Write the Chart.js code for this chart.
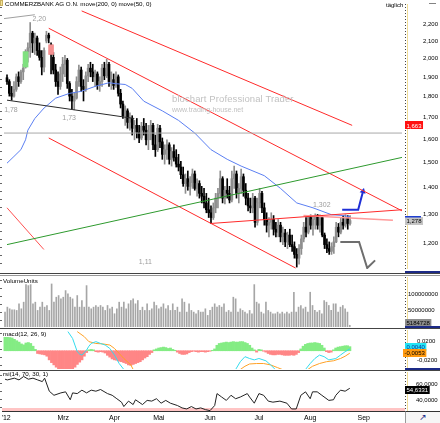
<!DOCTYPE html>
<html><head><meta charset="utf-8">
<script src="https://cdn.jsdelivr.net/npm/chart.js@4.4.1/dist/chart.umd.min.js"></script>
<style>
html,body{margin:0;padding:0;background:#fff}
body{width:440px;height:423px;position:relative;overflow:hidden;font-family:"Liberation Sans",Arial,sans-serif}
canvas{position:absolute;left:0}
.tx{position:absolute;white-space:nowrap;line-height:1;color:#000;font-size:6.5px}
.ln{position:absolute;left:0;width:440px;height:1px;background:#444}
.nv{position:absolute;left:405px;width:35px;height:2px;background:#1c2a86}
.wm{position:absolute;color:#c2c2c2;white-space:nowrap;line-height:1}
</style></head><body>
<canvas id="cPrice" width="440" height="273" style="top:0"></canvas>
<canvas id="cVol" width="440" height="54" style="top:277px"></canvas>
<canvas id="cMacd" width="440" height="39" style="top:330px"></canvas>
<canvas id="cRsi" width="440" height="51" style="top:372px"></canvas>

<div style="position:absolute;left:0;top:0;width:3px;height:6px;background:#f4e49a;border:1px solid #c8b060;box-sizing:border-box"></div>
<div class="tx" style="left:5px;top:1px;font-size:6.2px">COMMERZBANK AG O.N. move(200, 0) move(50, 0)</div>
<div class="tx" style="left:386px;top:2px;font-size:6px">täglich</div>
<div class="tx" style="left:429px;top:-1px;font-size:7px">—</div>
<div class="wm" style="left:172px;top:94px;font-size:9.5px;letter-spacing:0.1px">blochart Professional Trader</div>
<div class="wm" style="left:172px;top:106px;font-size:7px">www.trading-house.net</div>
<div class="tx" style="left:3px;top:278px;font-size:6.2px">VolumeUnits</div>
<div class="tx" style="left:3px;top:331px;font-size:6.2px">macd(12, 26, 9)</div>
<div class="tx" style="left:3px;top:371px;font-size:6.2px">rsi(14, 70, 30, 1)</div>

<div class="ln" style="top:273px"></div><div class="ln" style="top:275px;background:#999"></div>
<div class="nv" style="top:271px"></div>
<div class="ln" style="top:328px"></div><div class="nv" style="top:326px"></div>
<div class="ln" style="top:370px"></div><div class="nv" style="top:368px"></div>
<div style="position:absolute;left:405px;top:411px;width:35px;height:12px;border-top:1px solid #333;border-left:1px solid #999;background:#f6f6f6;box-sizing:border-box;text-align:center;font-size:9px;line-height:10px;color:#1c2a86;font-family:'DejaVu Sans'">↗</div>

<script>
// ---------- DATA ----------
const candleOpen = [1.897,1.877,1.817,1.803,1.837,1.902,1.877,1.928,1.954,2.039,
2.061,2.146,2.089,2.117,2.045,2.007,1.954,2.100,2.134,2.078,
2.007,1.938,1.877,1.852,1.917,1.969,1.991,1.867,1.803,1.779,
1.793,1.877,1.938,1.852,1.837,1.907,1.948,1.928,1.902,1.917,
1.857,1.877,1.948,1.907,1.969,1.877,1.887,1.857,1.902,1.817,
1.764,1.708,1.731,1.677,1.695,1.650,1.663,1.632,1.606,1.659,
1.641,1.598,1.632,1.663,1.576,1.555,1.650,1.589,1.535,1.555,
1.576,1.514,1.547,1.522,1.494,1.482,1.451,1.416,1.435,1.405,
1.420,1.454,1.397,1.416,1.378,1.367,1.342,1.317,1.306,1.289,
1.324,1.360,1.378,1.435,1.360,1.390,1.378,1.353,1.435,1.454,
1.378,1.397,1.443,1.390,1.360,1.331,1.324,1.360,1.272,1.342,
1.378,1.324,1.282,1.262,1.272,1.282,1.248,1.238,1.262,1.222,
1.235,1.205,1.228,1.196,1.189,1.164,1.152,1.183,1.215,1.255,
1.238,1.289,1.262,1.282,1.296,1.262,1.289,1.228,1.196,1.183,
1.174,1.189,1.205,1.255,1.238,1.272,1.262,1.289,1.268];
const candleHigh = [1.912,1.887,1.852,1.877,1.917,1.928,1.938,1.969,2.050,2.089,
2.210,2.157,2.146,2.129,2.089,2.045,2.061,2.157,2.146,2.089,
2.034,1.969,1.928,1.954,2.007,2.018,2.001,1.877,1.837,1.817,
1.902,1.964,1.954,1.887,1.928,1.969,1.980,1.969,1.938,1.928,
1.902,1.969,1.980,1.996,1.980,1.928,1.917,1.928,1.912,1.837,
1.779,1.755,1.741,1.722,1.708,1.686,1.695,1.663,1.677,1.695,
1.672,1.663,1.686,1.672,1.619,1.668,1.663,1.606,1.576,1.598,
1.585,1.564,1.576,1.555,1.535,1.506,1.482,1.454,1.466,1.443,
1.474,1.466,1.435,1.427,1.405,1.397,1.378,1.360,1.331,1.342,
1.378,1.397,1.466,1.443,1.405,1.435,1.405,1.466,1.486,1.466,
1.416,1.474,1.454,1.416,1.378,1.360,1.378,1.367,1.360,1.397,
1.386,1.342,1.306,1.289,1.306,1.296,1.272,1.282,1.272,1.255,
1.248,1.238,1.248,1.228,1.205,1.183,1.196,1.228,1.272,1.289,
1.296,1.298,1.296,1.302,1.300,1.299,1.296,1.235,1.215,1.205,
1.202,1.222,1.272,1.268,1.289,1.296,1.299,1.296,1.296];
const candleLow = [1.862,1.803,1.783,1.798,1.827,1.852,1.867,1.887,1.948,1.980,
2.007,2.034,2.023,2.018,1.991,1.912,1.928,2.089,2.089,1.917,
1.917,1.852,1.812,1.837,1.877,1.902,1.842,1.779,1.741,1.736,
1.788,1.852,1.827,1.779,1.827,1.877,1.902,1.877,1.852,1.837,
1.827,1.852,1.887,1.897,1.852,1.837,1.837,1.847,1.803,1.745,
1.695,1.663,1.650,1.641,1.619,1.598,1.606,1.585,1.598,1.619,
1.576,1.555,1.598,1.555,1.526,1.547,1.564,1.514,1.494,1.514,
1.494,1.486,1.506,1.482,1.466,1.435,1.405,1.378,1.390,1.371,
1.397,1.390,1.367,1.360,1.342,1.324,1.306,1.289,1.268,1.282,
1.306,1.324,1.360,1.342,1.338,1.360,1.342,1.346,1.397,1.360,
1.342,1.378,1.367,1.335,1.313,1.306,1.306,1.255,1.262,1.324,
1.306,1.262,1.238,1.222,1.248,1.228,1.222,1.222,1.205,1.196,
1.189,1.183,1.189,1.174,1.152,1.124,1.133,1.164,1.205,1.222,
1.232,1.248,1.228,1.248,1.248,1.238,1.222,1.183,1.170,1.164,
1.164,1.167,1.202,1.222,1.232,1.248,1.255,1.248,1.262];
const candleClose = [1.877,1.817,1.803,1.837,1.902,1.877,1.928,1.948,2.039,2.061,
2.146,2.089,2.117,2.045,2.007,1.954,2.045,2.134,2.117,2.023,
1.938,1.877,1.852,1.917,1.969,1.991,1.867,1.803,1.779,1.793,
1.877,1.938,1.852,1.837,1.907,1.948,1.928,1.902,1.917,1.857,
1.877,1.948,1.907,1.969,1.877,1.887,1.857,1.902,1.817,1.764,
1.708,1.731,1.677,1.695,1.650,1.663,1.632,1.606,1.659,1.641,
1.598,1.632,1.663,1.576,1.555,1.650,1.589,1.535,1.555,1.576,
1.514,1.547,1.522,1.494,1.482,1.451,1.416,1.435,1.405,1.420,
1.454,1.397,1.416,1.378,1.367,1.342,1.317,1.306,1.289,1.324,
1.360,1.378,1.435,1.360,1.390,1.378,1.353,1.435,1.454,1.378,
1.397,1.443,1.390,1.360,1.331,1.324,1.360,1.272,1.342,1.378,
1.324,1.282,1.262,1.272,1.282,1.248,1.238,1.262,1.222,1.235,
1.205,1.228,1.196,1.189,1.164,1.152,1.183,1.215,1.255,1.238,
1.289,1.262,1.282,1.296,1.262,1.289,1.228,1.196,1.183,1.174,
1.189,1.205,1.255,1.238,1.272,1.262,1.289,1.268,1.278];
const highlightUp = [8];      // green marked candle
const highlightDown = [19];   // pink marked candle

const maIdx = [0,3,6,8,9,12,16,21,27,32,38,44,47,51,54,59,67,74,81,88,95,101,111,118,125,132,140,145,148];
const maVal = [1.498,1.526,1.555,1.598,1.641,1.695,1.745,1.793,1.817,1.827,1.852,1.871,1.866,1.862,1.842,1.778,1.731,1.686,1.628,1.555,1.514,1.486,1.447,1.397,1.342,1.324,1.299,1.296,1.292];

// drawn trend lines: [day index, price]
const upperChannel = [[32.2,2.282],[148.9,1.663]];
const midChannel = [[18,2.175],[170.4,1.313]];
const lowerChannel = [[18,1.606],[124.5,1.121]];
const leftRedLine = [[0,1.324],[15.9,1.180]];
const supportRise = [[88,1.268],[170.4,1.317]];
const pinkLine = [[127.9,1.296],[166.5,1.279]];
const blackLine = [[0,1.783],[54.9,1.695]];
const grayTopLine = [[-1.3,2.234],[12,2.258]];
const greenLine = [[0,1.196],[170.4,1.522]];
const levelLine = [[-1.3,1.628],[170.4,1.628]];
const blueArrow = [[144.6,1.317],[151.5,1.317],[153.6,1.386]];
const grayArrow = [[143.8,1.205],[151.9,1.205],[155.4,1.121],[158.8,1.145]];

const noteIdx = [13.9,1.7,26.8,59.7,135.8];
const notePrice = [2.231,1.736,1.697,1.141,1.335];
const noteText = ['2,20','1,78','1,73','1,11','1,302'];

const priceTicks = [1.2,1.3,1.4,1.5,1.6,1.7,1.8,1.9,2.0,2.1,2.2];
const channelEnd = 1.663, lastClose = 1.278;

const volMio = [45,60,55,52,52,50,70,55,75,128,
125,128,70,75,50,60,75,60,65,50,
130,75,90,95,85,90,110,100,90,85,
60,95,60,80,60,125,60,55,60,65,
60,65,60,50,65,55,60,40,55,75,
60,75,55,70,80,85,70,80,50,60,
50,70,50,55,75,65,55,60,70,55,
65,50,70,50,60,45,85,75,45,70,
50,45,40,50,45,45,55,35,50,60,
70,60,65,60,70,45,50,45,90,85,
45,55,50,45,40,50,40,128,75,70,
45,40,75,50,45,40,40,45,40,45,
40,45,40,45,105,45,60,65,55,60,
45,105,65,50,45,50,40,80,75,65,
50,70,70,45,60,65,55,45,5.184728];
const volTicks = [0,50000000,100000000];
const lastVolume = 5184728;

const macdHist = [0.0295,0.0295,0.029,0.028,0.025,0.022,0.019,0.015,0.013,0.017,0.018,0.016,0.010,0.003,
-0.006,-0.007,-0.008,-0.009,-0.012,-0.020,-0.026,-0.031,-0.036,-0.042,-0.045,-0.048,-0.046,-0.044,-0.043,-0.040,-0.036,-0.030,-0.025,-0.020,-0.012,-0.004,
0.002,0.003,0.002,-0.002,-0.003,-0.002,-0.003,-0.005,
-0.010,-0.014,-0.018,-0.020,-0.021,-0.023,-0.024,-0.026,-0.028,-0.031,-0.032,-0.030,-0.028,-0.026,-0.024,-0.020,-0.016,-0.013,-0.008,-0.004,
0.002,0.004,0.006,0.007,0.008,0.007,0.005,0.006,0.003,0.001,
-0.003,-0.006,-0.008,-0.008,-0.007,-0.004,-0.002,
-0.001,-0.002,-0.003,-0.002,-0.002,-0.003,-0.002,-0.001,
0.001,0.004,0.012,0.016,0.017,0.018,0.019,0.018,0.019,0.020,0.019,0.019,0.020,0.020,0.018,0.016,0.012,0.006,
0.002,-0.003,0.003,0.002,-0.001,
-0.003,-0.006,-0.008,-0.009,-0.009,-0.008,-0.008,-0.009,-0.010,-0.010,-0.010,-0.009,-0.010,-0.008,-0.004,
0.004,0.010,0.014,0.016,0.017,0.017,0.018,0.017,0.016,0.012,0.006,
-0.002,-0.004,-0.003,
0.002,0.006,0.008,0.009,0.010,0.011,0.011,0.009];
const macdIdx = [27,29,30,31,32,33,35,36,37,39,41,43,45,47,49,51,75,99,101,103,105,107,109,112,114,116,122,129,131,133,135,137,139,142,144,146,148];
const macdVal = [0.042,0.027,0.0125,-0.002,-0.007,-0.0095,0.0015,0.010,0.016,0.020,0.016,0.0125,0.005,-0.0095,-0.028,-0.041,null,-0.041,-0.024,-0.013,-0.017,-0.020,-0.017,-0.022,-0.031,-0.041,null,-0.041,-0.028,-0.017,-0.0095,-0.013,-0.020,-0.017,-0.0095,-0.002,0.004];
const signalIdx = [31,34,36,39,42,45,47,49,51,54,55,78,101,103,105,108,111,114,117,119,125,130,132,135,138,141,144,146,148];
const signalVal = [0.042,0.031,0.020,0.016,0.015,0.0125,0.005,-0.006,-0.017,-0.031,-0.041,null,-0.041,-0.034,-0.029,-0.028,-0.028,-0.031,-0.037,-0.041,null,-0.041,-0.034,-0.028,-0.024,-0.022,-0.017,-0.012,-0.0053];
const macdTicks = [-0.02,0,0.02];
const lastMacd = 0.0040, lastSignal = -0.0053;

const rsiIdx = [0,1,4,6,8,10,12,14,16,17,19,21,24,26,28,29,31,33,35,37,39,41,44,46,48,50,51,53,55,56,59,61,63,65,67,69,71,74,76,78,80,82,84,86,88,90,91,93,95,97,99,101,104,105,107,109,111,113,115,118,121,123,125,127,129,131,132,134,136,139,141,142,144,146,148];
const rsiVal = [66.0,65.1,67.3,65.1,69.4,66.0,67.3,65.1,63.0,67.3,51.0,45.9,48.9,50.2,40.3,48.9,48.0,52.3,48.9,52.3,51.0,53.1,48.0,45.9,41.6,37.3,31.8,38.6,34.3,40.3,34.3,39.5,38.6,41.6,36.0,39.5,36.0,33.1,30.1,28.8,31.8,28.8,30.1,28.0,26.7,33.1,48.0,43.7,39.5,45.9,41.6,43.7,48.0,43.7,36.0,48.0,45.9,38.6,37.3,38.6,36.0,28.8,28.8,45.9,50.2,41.6,50.2,50.2,45.9,39.5,40.3,45.9,52.3,51.0,54.6331];
const rsiTicks = [40,60];
const rsiLower = 30;
const lastRsi = 54.6331;

const monthIdx = [0.5,25,47,66,88,109,131,154];
const monthLabels = ["'12","Mrz","Apr","Mai","Jun","Jul","Aug","Sep"];

// ---------- CHARTS ----------
const FONT = '"Liberation Sans", Arial, sans-serif';
Chart.defaults.font.family = FONT;
Chart.defaults.font.size = 6;
Chart.defaults.color = '#000';
const xMin = -1.3, xMax = 171.7;
const comma = (v, d) => v === 0 ? '0' : v.toFixed(d).replace('.', ',');

const framePlugin = { id: 'frame', afterDraw(chart) {
  const { ctx, chartArea: a } = chart; ctx.save();
  ctx.strokeStyle = '#f0dc94'; ctx.lineWidth = 1;
  ctx.beginPath(); ctx.moveTo(a.right + 2.5, a.top); ctx.lineTo(a.right + 2.5, a.bottom); ctx.stroke();
  ctx.setLineDash([1, 2]); ctx.strokeStyle = '#444';
  ctx.beginPath(); ctx.moveTo(a.right + 0.5, a.top); ctx.lineTo(a.right + 0.5, a.bottom); ctx.stroke();
  ctx.setLineDash([1, 7]); ctx.lineWidth = 2; ctx.strokeStyle = '#666';
  ctx.beginPath(); ctx.moveTo(1, a.top + 3); ctx.lineTo(1, a.bottom); ctx.stroke();
  ctx.restore(); } };
const vboxPlugin = { id: 'vbox', afterDraw(chart, args, opts) {
  if (!opts.boxes) return;
  const { ctx, chartArea: a } = chart, ys = chart.scales.y;
  ctx.save(); ctx.font = '6px ' + FONT; ctx.textBaseline = 'middle'; ctx.textAlign = 'left';
  opts.boxes.forEach(b => {
    let y = ys.getPixelForValue(b.value);
    y = Math.max(a.top + 4, Math.min(a.bottom - 4, y)) + (b.dy || 0);
    const w = ctx.measureText(b.text).width + 3, x = a.right + (b.dx || 0);
    ctx.fillStyle = b.bg; ctx.fillRect(x, Math.round(y - 4), w, 8);
    if (b.topLine) { ctx.fillStyle = b.topLine; ctx.fillRect(x, Math.round(y - 5), 16, 1.5); }
    ctx.fillStyle = b.fg; ctx.fillText(b.text, x + 1.5, y + 0.5);
  });
  ctx.restore(); } };
const notePlugin = { id: 'notes', afterDatasetsDraw(chart, args, opts) {
  if (!opts.items) return;
  const ctx = chart.ctx, xs = chart.scales.x, ys = chart.scales.y;
  ctx.save(); ctx.font = '7px ' + FONT; ctx.fillStyle = '#9c9c9c'; ctx.textAlign = 'center'; ctx.textBaseline = 'middle';
  opts.items.forEach(n => ctx.fillText(n.t, xs.getPixelForValue(n.i), ys.getPixelForValue(n.p)));
  ctx.restore(); } };
Chart.register(framePlugin, vboxPlugin, notePlugin);

function yAxis(extra) {
  return Object.assign({ position: 'right', bounds: 'data',
    afterFit: s => { s.width = 33; s.paddingTop = 0; s.paddingBottom = 0; },
    grid: { display: false, drawTicks: false }, border: { display: false } }, extra);
}
function xHidden() {
  return { type: 'linear', min: xMin, max: xMax, offset: false, display: false, bounds: 'data', grid: { display: false } };
}
const base = { responsive: false, animation: false, events: [],
  layout: { padding: { left: 2, right: 2, top: 0, bottom: 0 } } };
const pl = extra => Object.assign({ legend: { display: false }, tooltip: { enabled: false } }, extra);
const pts = arr => arr.map(p => ({ x: p[0], y: p[1] }));
function line(arr, color, width, extra) {
  return Object.assign({ type: 'line', data: pts(arr), borderColor: color, borderWidth: width,
    pointRadius: 0, fill: false, tension: 0, order: 1, spanGaps: false }, extra || {});
}

const idx = candleOpen.map((_, i) => i);
const candleCol = idx.map(i => candleClose[i] >= candleOpen[i] ? '#8e8e8e' : '#000000');
const bodyRange = i => [Math.min(candleOpen[i], candleClose[i]), Math.max(candleOpen[i], candleClose[i])];

new Chart(document.getElementById('cPrice'), {
  type: 'bar',
  data: { datasets: [
    line(levelLine, '#a8a8a8', 1),
    line(greenLine, '#2e9a2e', 1),
    line(blackLine, '#2a2a2a', 1),
    line(grayTopLine, '#a0a0a0', 1),
    line(upperChannel, '#ff2a2a', 1),
    line(midChannel, '#ff2a2a', 1),
    line(lowerChannel, '#ff2a2a', 1),
    line(leftRedLine, '#ff5050', 1),
    line(supportRise, '#ff2a2a', 1),
    line(pinkLine, '#ff9a9a', 1.5),
    line(maIdx.map((v, k) => [v, maVal[k]]), '#5b7ff2', 1),
    line(blueArrow, '#1f2fd6', 2, { pointRadius: [0, 0, 3.5], pointStyle: 'triangle', pointRotation: 15, pointBackgroundColor: '#1f2fd6', pointBorderWidth: 0 }),
    line(grayArrow, '#6e6e6e', 2),
    { type: 'bar', data: idx.map(i => ({ x: i, y: [candleLow[i], candleHigh[i]] })), backgroundColor: candleCol, barThickness: 1, grouped: false, order: 6 },
    { type: 'bar', data: idx.map(i => ({ x: i, y: bodyRange(i) })), backgroundColor: candleCol, barThickness: 2, grouped: false, minBarLength: 1, order: 5 },
    { type: 'bar', data: highlightUp.map(i => ({ x: i, y: bodyRange(i) })), backgroundColor: '#7fe07f', barThickness: 5, grouped: false, order: 4 },
    { type: 'bar', data: highlightDown.map(i => ({ x: i, y: bodyRange(i) })), backgroundColor: '#f59090', barThickness: 5, grouped: false, order: 4 }
  ] },
  options: Object.assign({}, base, {
    scales: {
      x: xHidden(),
      y: yAxis({ type: 'logarithmic', min: 1.118, max: 2.326,
        afterBuildTicks: s => { s.ticks = priceTicks.map(v => ({ value: v })); },
        ticks: { autoSkip: false, padding: 18, font: { size: 6 }, callback: v => comma(v, 3) } })
    },
    plugins: pl({
      notes: { items: noteIdx.map((v, k) => ({ i: v, p: notePrice[k], t: noteText[k] })) },
      vbox: { boxes: [
        { value: channelEnd, text: comma(channelEnd, 3), bg: '#ff1010', fg: '#fff' },
        { value: lastClose, text: comma(lastClose, 3), bg: '#c4c4c4', fg: '#000', topLine: '#1f3fd0' }
      ] }
    })
  })
});

new Chart(document.getElementById('cVol'), {
  type: 'bar',
  data: { datasets: [
    { data: idx.map(i => ({ x: i, y: volMio[i] * 1e6 })), backgroundColor: '#a6a6a6', barThickness: 1, grouped: false }
  ] },
  options: Object.assign({}, base, {
    layout: { padding: { left: 2, right: 2, top: 0, bottom: 4 } },
    scales: {
      x: xHidden(),
      y: yAxis({ type: 'linear', min: 0, max: 151e6,
        afterBuildTicks: s => { s.ticks = volTicks.map(v => ({ value: v })); },
        ticks: { autoSkip: false, padding: 3, font: { size: 6 }, callback: v => String(v) } })
    },
    plugins: pl({ vbox: { boxes: [ { value: lastVolume, text: String(lastVolume), bg: '#8c8c8c', fg: '#000' } ] } })
  })
});

new Chart(document.getElementById('cMacd'), {
  type: 'bar',
  data: { datasets: [
    { data: idx.map(i => ({ x: i, y: macdHist[i] })), backgroundColor: macdHist.map(v => v >= 0 ? '#84ec84' : '#ff8686'),
      barPercentage: 1, categoryPercentage: 1, grouped: false, order: 5 },
    line(macdIdx.map((v, k) => [v, macdVal[k]]), '#33dcee', 1),
    line(signalIdx.map((v, k) => [v, signalVal[k]]), '#ffa126', 1)
  ] },
  options: Object.assign({}, base, {
    scales: {
      x: xHidden(),
      y: yAxis({ type: 'linear', min: -0.040, max: 0.0455,
        afterBuildTicks: s => { s.ticks = macdTicks.map(v => ({ value: v })); },
        ticks: { autoSkip: false, padding: 12, font: { size: 6 }, callback: v => comma(v, 4) } })
    },
    plugins: pl({ vbox: { boxes: [
      { value: lastMacd, text: comma(lastMacd, 4), bg: '#22e4f4', fg: '#1030a0', dy: -2 },
      { value: lastSignal, text: comma(lastSignal, 4), bg: '#ff9a10', fg: '#000', dx: -2, dy: 0 }
    ] } })
  })
});

new Chart(document.getElementById('cRsi'), {
  type: 'bar',
  data: { datasets: [
    { type: 'line', data: [{ x: xMin, y: rsiLower }, { x: xMax, y: rsiLower }], borderWidth: 0, borderColor: 'rgba(0,0,0,0)',
      backgroundColor: '#ffc4c4', fill: 'start', pointRadius: 0, order: 9 },
    line(rsiIdx.map((v, k) => [v, rsiVal[k]]), '#222', 1)
  ] },
  options: Object.assign({}, base, {
    scales: {
      x: { type: 'linear', min: xMin, max: xMax, offset: false, bounds: 'data', position: 'bottom',
        afterBuildTicks: s => { s.ticks = monthIdx.map(v => ({ value: v })); },
        afterFit: s => { s.height = 12; s.paddingLeft = 0; s.paddingRight = 0; },
        grid: { display: false, drawTicks: false }, border: { display: true, color: '#333', width: 1 },
        ticks: { autoSkip: false, maxRotation: 0, padding: 3, font: { size: 7 },
          callback: v => monthLabels[monthIdx.indexOf(v)] } },
      y: yAxis({ type: 'linear', min: 26.25, max: 75,
        afterBuildTicks: s => { s.ticks = rsiTicks.map(v => ({ value: v })); },
        ticks: { autoSkip: false, padding: 11, font: { size: 6 }, callback: v => comma(v, 4) } })
    },
    plugins: pl({ vbox: { boxes: [ { value: lastRsi, text: comma(lastRsi, 4), bg: '#000', fg: '#fff', dy: 2 } ] } })
  })
});
</script>
</body></html>
